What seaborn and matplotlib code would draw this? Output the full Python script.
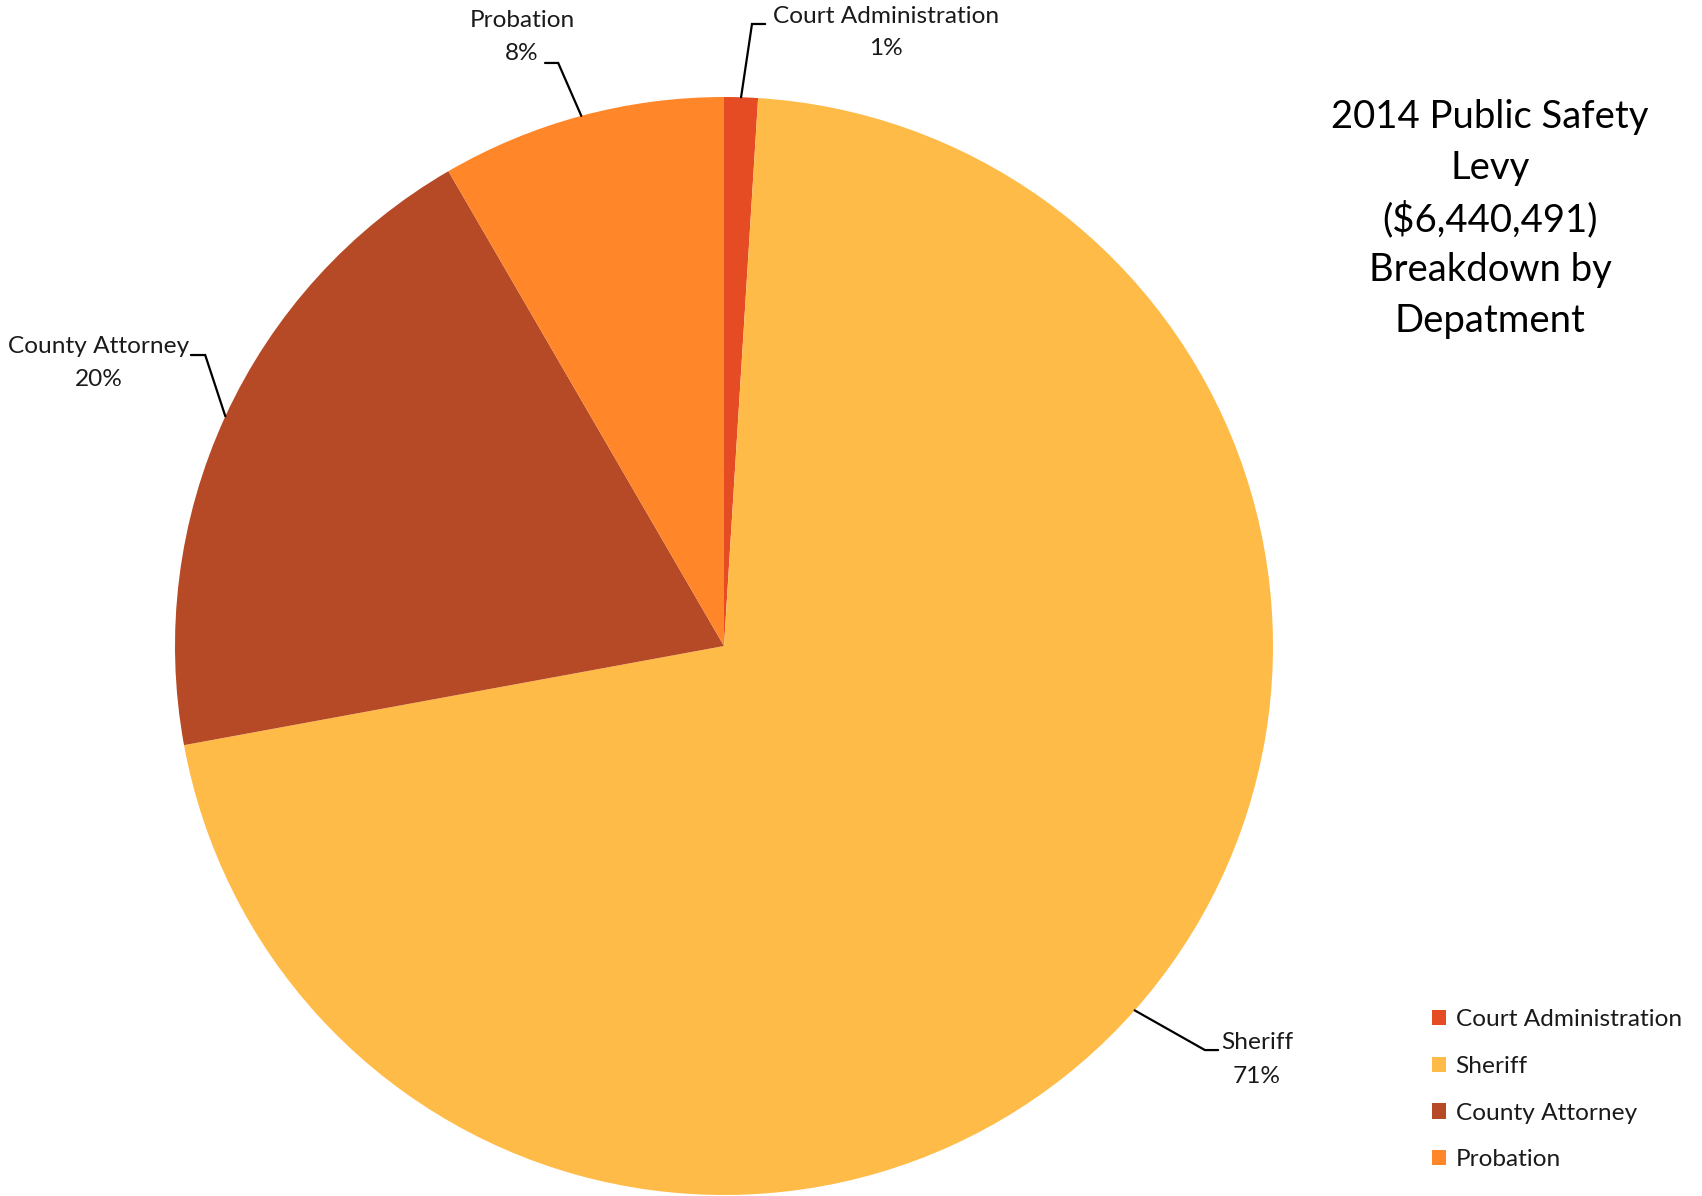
import numpy as np
import matplotlib
matplotlib.use('Agg')
import matplotlib.pyplot as plt
import seaborn as sns
from matplotlib.patches import Patch

# levy shares by department (percent of $6,440,491)
departments = ['Court Administration', 'Sheriff', 'County Attorney', 'Probation']
shares = [0.99, 71.12, 19.52, 8.37]
pct_labels = ['1%', '71%', '20%', '8%']
title_lines = ['2014 Public Safety', 'Levy', '($6,440,491)', 'Breakdown by', 'Depatment']

palette = ['#E64C24', '#FFBB47', '#B64926', '#FF8729']

sns.set_theme(style='white')
plt.rcParams['font.family'] = ['Lato', 'DejaVu Sans']

W, H = 1702, 1196
cx, cy, R = 724, 646, 549   # pie centre / radius in pixels

fig = plt.figure(figsize=(W / 100, H / 100), dpi=100)
ax = fig.add_axes([0, 0, 1, 1])

wedges, _ = ax.pie(shares, colors=palette, startangle=90, counterclock=False,
                   radius=1, wedgeprops=dict(linewidth=0))
ax.set_aspect('auto')
ax.set_xlim(-cx / R, (W - cx) / R)
ax.set_ylim((cy - H) / R, cy / R)
ax.axis('off')

# label layout: (name xy, pct xy, elbow xy, end xy) in pie units
layout = {
    'Court Administration': ((0.295, 1.147), (0.295, 1.088), (0.051, 1.133), (0.075, 1.133)),
    'Sheriff': ((0.971, -0.723), (0.971, -0.785), (0.876, -0.736), (0.900, -0.736)),
    'County Attorney': ((-1.139, 0.545), (-1.139, 0.485), (-0.945, 0.530), (-0.971, 0.530)),
    'Probation': ((-0.368, 1.139), (-0.368, 1.080), (-0.302, 1.062), (-0.326, 1.062)),
}

fs = 17.6
for w, name, pct in zip(wedges, departments, pct_labels):
    mid = np.deg2rad((w.theta1 + w.theta2) / 2)
    ax0, ay0 = np.cos(mid), np.sin(mid)
    name_xy, pct_xy, elbow, end = layout[name]
    ax.plot([ax0, elbow[0], end[0]], [ay0, elbow[1], end[1]], color='black', lw=1.6,
            solid_joinstyle='miter')
    ax.text(*name_xy, name, ha='center', va='center', fontsize=fs, color='#1a1a1a')
    ax.text(*pct_xy, pct, ha='center', va='center', fontsize=fs, color='#1a1a1a')

# title
for i, line in enumerate(title_lines):
    fig.text(1490 / W, 1 - (117 + 51 * i) / H, line, ha='center', va='center',
             fontsize=27.5, color='black')

# legend
handles = [Patch(facecolor=c, edgecolor='none') for c in palette]
leg = fig.legend(handles, departments, loc='upper left',
                 bbox_to_anchor=(1420 / W, 1 - 997 / H), frameon=False,
                 fontsize=fs, handlelength=0.58, handleheight=0.58,
                 handletextpad=0.38, labelspacing=1.05, borderpad=0)
for t in leg.get_texts():
    t.set_color('#1a1a1a')

fig.savefig('out.png', dpi=100)
